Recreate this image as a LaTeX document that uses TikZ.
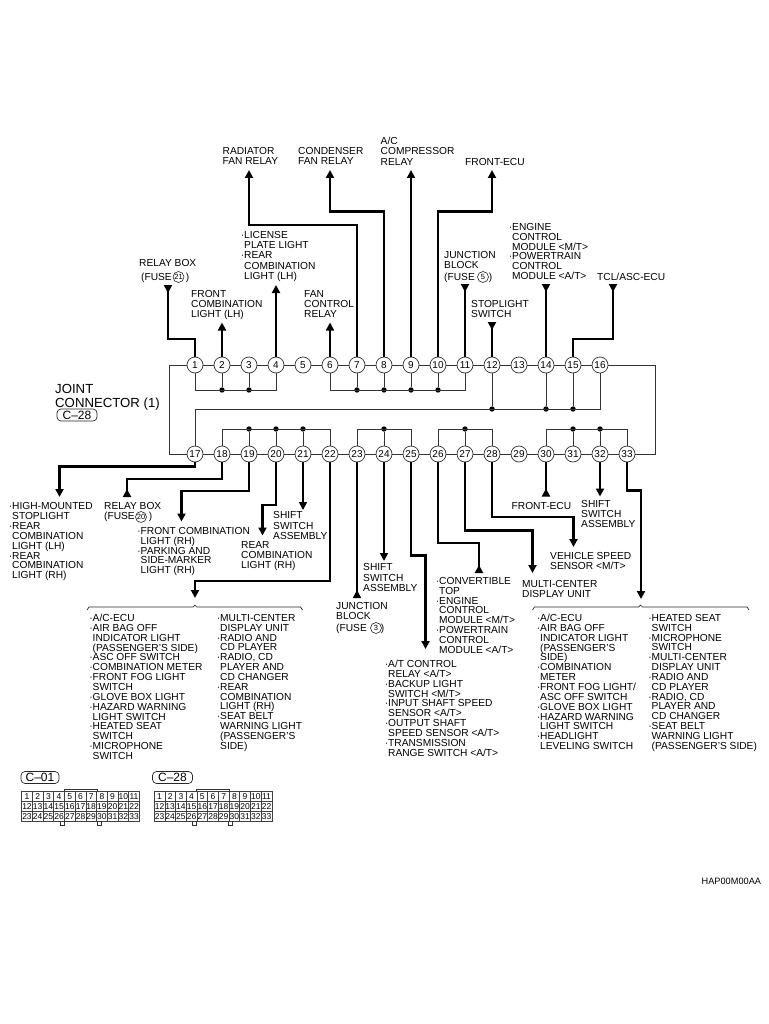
\documentclass[tikz,border=0pt]{standalone}
\usepackage{fontspec}
\setmainfont{Liberation Sans}
\usetikzlibrary{arrows.meta}
\def\itm{\llap{·}}
\def\cavitygrid(#1,#2)#3{\foreach \n in {1,...,33}{\pgfmathtruncatemacro\col{mod(\n-1,11)}\pgfmathtruncatemacro\row{(\n-1)/11}\node[cavity] (#3cell\n) at ({#1+\col*10.7},{#2+\row*9.9}) {\n};}}
\tikzset{
	pin/.style={circle, draw=black!80, line width=0.7pt, fill=white, minimum size=16pt, inner sep=0pt, font=\fontsize{10}{10}\selectfont},
	jdot/.style={circle, fill=black, minimum size=5.4pt, inner sep=0pt},
	thinwire/.style={line width=0.8pt, color=black!80},
	midwire/.style={line width=1.6pt, color=black},
	heavywire/.style={line width=2.6pt, color=black},
	outtip/.style={-{Triangle[length=8pt,width=8pt]}},
	intip/.style={-{Triangle[length=8pt,width=8pt,reversed]}},
	lbl/.style={anchor=north west, yshift=8pt, inner sep=0pt, align=left, text=black, font=\fontsize{10.2}{9.85}\selectfont, execute at begin node={\rule{0pt}{8pt}}},
	loose/.style={font=\fontsize{10.2}{10.25}\selectfont},
	fusecirc/.style={circle, draw=black!85, line width=0.6pt, minimum size=11pt, inner sep=0pt, font=\fontsize{7.5}{7.5}\selectfont},
	tagbox/.style={draw=black!85, line width=0.7pt, rounded corners=4pt, inner sep=0pt, minimum height=12pt, font=\fontsize{12}{12}\selectfont},
	cavity/.style={draw=black!75, line width=0.7pt, inner sep=0pt, minimum width=10.7pt, minimum height=9.9pt, font=\fontsize{8.5}{8.5}\selectfont},
	brace/.style={line width=0.7pt, color=black!85},
}
\begin{document}
\begin{tikzpicture}[x=1pt, y=-1pt]
		%%%%% START %%%%%
		\useasboundingbox (0, 0) rectangle (768, 1024);
		
		\coordinate (lefttop) at (169, 365);
		\coordinate (leftbot) at (169, 454);
		\coordinate (righttop) at (655, 365);
		\coordinate (rightbot) at (655, 454);
		
		\node[pin] (p1) at (195, 365) {1};
		\node[pin] (p2) at (222, 365) {2};
		\node[pin] (p3) at (249, 365) {3};
		\node[pin] (p4) at (276, 365) {4};
		\node[pin] (p5) at (303, 365) {5};
		\node[pin] (p6) at (330, 365) {6};
		\node[pin] (p7) at (357, 365) {7};
		\node[pin] (p8) at (384, 365) {8};
		\node[pin] (p9) at (411, 365) {9};
		\node[pin] (p10) at (438, 365) {10};
		\node[pin] (p11) at (465, 365) {11};
		\node[pin] (p12) at (492, 365) {12};
		\node[pin] (p13) at (519, 365) {13};
		\node[pin] (p14) at (546, 365) {14};
		\node[pin] (p15) at (573, 365) {15};
		\node[pin] (p16) at (600, 365) {16};
		
		\node[pin] (p17) at (195, 454) {17};
		\node[pin] (p18) at (222, 454) {18};
		\node[pin] (p19) at (249, 454) {19};
		\node[pin] (p20) at (276, 454) {20};
		\node[pin] (p21) at (303, 454) {21};
		\node[pin] (p22) at (330, 454) {22};
		\node[pin] (p23) at (357, 454) {23};
		\node[pin] (p24) at (384, 454) {24};
		\node[pin] (p25) at (411, 454) {25};
		\node[pin] (p26) at (438, 454) {26};
		\node[pin] (p27) at (465, 454) {27};
		\node[pin] (p28) at (492, 454) {28};
		\node[pin] (p29) at (519, 454) {29};
		\node[pin] (p30) at (546, 454) {30};
		\node[pin] (p31) at (573, 454) {31};
		\node[pin] (p32) at (600, 454) {32};
		\node[pin] (p33) at (627, 454) {33};
		
		\draw[thinwire] (p1) -- (p2) -- (p3) -- (p4) -- (p5) -- (p6) -- (p7) -- (p8) -- (p9) -- (p10) -- (p11) -- (p12) -- (p13) -- (p14) -- (p15) -- (p16);
		\draw[thinwire] (p17) -- (p18) -- (p19) -- (p20) -- (p21) -- (p22) -- (p23) -- (p24) -- (p25) -- (p26) -- (p27) -- (p28) -- (p29) -- (p30) -- (p31) -- (p32) -- (p33);
		\draw[thinwire] (p1) -- (lefttop) -- (leftbot) -- (p17);
		\draw[thinwire] (p16) -- (righttop) -- (rightbot) -- (p33);
		
		% upper bus bars
		\node[jdot] (d2) at (222, 390) {};
		\node[jdot] (d3) at (249, 390) {};
		\node[jdot] (d7) at (357, 390) {};
		\node[jdot] (d8) at (384, 390) {};
		\node[jdot] (d9) at (411, 390) {};
		\node[jdot] (d10) at (438, 390) {};
		\draw[thinwire] (p1) -- ++(0, 25) -| (p4);
		\draw[thinwire] (p6) -- ++(0, 25) -| (p11);
		\draw[thinwire] (p2) -- (d2);
		\draw[thinwire] (p3) -- (d3);
		\draw[thinwire] (p7) -- (d7);
		\draw[thinwire] (p8) -- (d8);
		\draw[thinwire] (p9) -- (d9);
		\draw[thinwire] (p10) -- (d10);
		
		% long bar
		\node[jdot] (d12) at (492, 409) {};
		\node[jdot] (d14) at (546, 409) {};
		\node[jdot] (d15) at (573, 409) {};
		\draw[thinwire] (p17) -- ++(0, -45) -| (p16);
		\draw[thinwire] (p12) -- (d12);
		\draw[thinwire] (p14) -- (d14);
		\draw[thinwire] (p15) -- (d15);
		
		% lower bus bars
		\node[jdot] (d19) at (249, 429) {};
		\node[jdot] (d20) at (276, 429) {};
		\node[jdot] (d21) at (303, 429) {};
		\node[jdot] (d24) at (384, 429) {};
		\node[jdot] (d27) at (465, 429) {};
		\node[jdot] (d31) at (573, 429) {};
		\node[jdot] (d32) at (600, 429) {};
		\draw[thinwire] (p18) -- ++(0, -25) -| (p22);
		\draw[thinwire] (p23) -- ++(0, -25) -| (p25);
		\draw[thinwire] (p26) -- ++(0, -25) -| (p28);
		\draw[thinwire] (p30) -- ++(0, -25) -| (p33);
		\draw[thinwire] (p19) -- (d19);
		\draw[thinwire] (p20) -- (d20);
		\draw[thinwire] (p21) -- (d21);
		\draw[thinwire] (p24) -- (d24);
		\draw[thinwire] (p27) -- (d27);
		\draw[thinwire] (p31) -- (d31);
		\draw[thinwire] (p32) -- (d32);
		
		% free ends of the wires
		\coordinate (t1) at (168, 285);
		\coordinate (t2) at (222, 322.5);
		\coordinate (t4) at (276, 285);
		\coordinate (t6) at (330, 322.5);
		\coordinate (t7) at (249, 170);
		\coordinate (t8) at (330, 170);
		\coordinate (t9) at (411, 170);
		\coordinate (t10) at (492, 170);
		\coordinate (t11) at (465, 284);
		\coordinate (t12) at (492, 322);
		\coordinate (t14) at (546, 284);
		\coordinate (t15) at (613, 284);
		\coordinate (t17) at (59.5, 497);
		\coordinate (t18) at (127, 497);
		\coordinate (t19) at (181.5, 521.5);
		\coordinate (t20) at (262.5, 535.5);
		\coordinate (t21) at (303, 510);
		\coordinate (t22) at (195, 598);
		\coordinate (t23) at (357, 598);
		\coordinate (t24) at (384, 561);
		\coordinate (t25) at (425.5, 649);
		\coordinate (t26) at (479, 573);
		\coordinate (t27) at (532.5, 573);
		\coordinate (t28) at (573.5, 547);
		\coordinate (t30) at (546, 496.5);
		\coordinate (t32) at (600, 496.5);
		\coordinate (t33) at (641, 599);
		
		\draw[heavywire, intip] (p1) -- ++(0, -26) -| (t1);
		\draw[heavywire, outtip] (p2) -- (t2);
		\draw[heavywire, outtip] (p4) -- (t4);
		\draw[midwire, outtip] (p6) -- (t6);
		\draw[heavywire, outtip] (p7) -- ++(0, -140) -| (t7);
		\draw[heavywire, outtip] (p8) -- ++(0, -153.5) -| (t8);
		\draw[midwire, outtip] (p9) -- (t9);
		\draw[heavywire, outtip] (p10) -- ++(0, -153.5) -| (t10);
		\draw[heavywire, intip] (p11) -- (t11);
		\draw[heavywire, intip] (p12) -- (t12);
		\draw[heavywire, intip] (p14) -- (t14);
		\draw[heavywire, intip] (p15) -- ++(0, -26) -| (t15);
		
		\draw[heavywire, outtip] (p17) -- ++(0, 12.5) -| (t17);
		\draw[heavywire, intip] (p18) -- ++(0, 25) -| (t18);
		\draw[heavywire, outtip] (p19) -- ++(0, 37) -| (t19);
		\draw[heavywire, outtip] (p20) -- ++(0, 51) -| (t20);
		\draw[midwire, outtip] (p21) -- (t21);
		\draw[heavywire, outtip] (p22) -- ++(0, 127) -| (t22);
		\draw[midwire, intip] (p23) -- (t23);
		\draw[midwire, outtip] (p24) -- (t24);
		\draw[heavywire, outtip] (p25) -- ++(0, 101.5) -| (t25);
		\draw[heavywire, intip] (p26) -- ++(0, 89) -| (t26);
		\draw[heavywire, outtip] (p27) -- ++(0, 76.5) -| (t27);
		\draw[heavywire, outtip] (p28) -- ++(0, 63) -| (t28);
		\draw[heavywire, intip] (p30) -- (t30);
		\draw[heavywire, outtip] (p32) -- (t32);
		\draw[heavywire, outtip] (p33) -- ++(0, 36.5) -| (t33);
		
		% upper labels
		\node[lbl, loose] (radiator) at (222.5, 155) {RADIATOR\\FAN RELAY};
		\node[lbl, loose] (condenser) at (298, 155) {CONDENSER\\FAN RELAY};
		\node[lbl, loose] (compressor) at (380.5, 145) {A/C\\COMPRESSOR\\RELAY};
		\node[lbl] (frontecu) at (465, 165) {FRONT-ECU};
		\node[lbl, loose] (licence) at (244, 239) {\itm LICENSE\\PLATE LIGHT\\\itm REAR\\COMBINATION\\LIGHT (LH)};
		\node[lbl] (relaybox) at (139, 266.5) {RELAY BOX};
		\node[lbl] (fuseb) at (141, 280) {(FUSE\hspace{14pt})};
		\node[fusecirc] (f21) at (178.5, 277) {21};
		\node[lbl, loose] (frontlh) at (191, 298) {FRONT\\COMBINATION\\LIGHT (LH)};
		\node[lbl, loose] (fanctl) at (304, 298) {FAN\\CONTROL\\RELAY};
		\node[lbl, loose] (junction) at (444, 259) {JUNCTION\\BLOCK};
		\node[lbl] (fusej) at (444, 280) {(FUSE\hspace{14pt})};
		\node[fusecirc] (f5) at (483, 277) {5};
		\node[lbl, loose] (stoplight) at (471, 308) {STOPLIGHT\\SWITCH};
		\node[lbl] (engine) at (512, 231) {\itm ENGINE\\CONTROL\\MODULE <M/T>\\\itm POWERTRAIN\\CONTROL\\MODULE <A/T>};
		\node[lbl] (tclasc) at (597, 280) {TCL/ASC-ECU};
		
		\node[lbl, font=\fontsize{13.2}{13.2}\selectfont] (joint) at (55, 392.5) {JOINT\\CONNECTOR (1)};
		\node[tagbox, minimum width=40pt] (tagjoint) at (77, 415) {C--28};
		
		% lower labels
		\node[lbl] (highstop) at (12, 510.5) {\itm HIGH-MOUNTED\\STOPLIGHT\\\itm REAR\\COMBINATION\\LIGHT (LH)\\\itm REAR\\COMBINATION\\LIGHT (RH)};
		\node[lbl] (relayboxb) at (104, 510) {RELAY BOX\\(FUSE\hspace{14pt})};
		\node[fusecirc] (f20) at (141, 517) {20};
		\node[lbl] (frontrh) at (140.5, 535) {\itm FRONT COMBINATION\\LIGHT (RH)\\\itm PARKING AND\\SIDE-MARKER\\LIGHT (RH)};
		\node[lbl, loose] (rearrh) at (241, 549) {REAR\\COMBINATION\\LIGHT (RH)};
		\node[lbl, loose] (shifta) at (273, 519.5) {SHIFT\\SWITCH\\ASSEMBLY};
		\node[lbl, loose] (shiftb) at (363, 571.5) {SHIFT\\SWITCH\\ASSEMBLY};
		\node[lbl] (junctionb) at (336, 610.5) {JUNCTION\\BLOCK};
		\node[lbl] (fusek) at (336, 631) {(FUSE\hspace{14pt})};
		\node[fusecirc] (f3) at (376, 628) {3};
		\node[lbl] (convertible) at (439, 585) {\itm CONVERTIBLE\\TOP\\\itm ENGINE\\CONTROL\\MODULE <M/T>\\\itm POWERTRAIN\\CONTROL\\MODULE <A/T>};
		\node[lbl] (multicenter) at (522, 588) {MULTI-CENTER\\DISPLAY UNIT};
		\node[lbl] (speed) at (550, 560.5) {VEHICLE SPEED\\SENSOR <M/T>};
		\node[lbl] (frontecub) at (511.5, 509) {FRONT-ECU};
		\node[lbl, loose] (shiftc) at (581, 508) {SHIFT\\SWITCH\\ASSEMBLY};
		\node[lbl] (atctl) at (388, 668) {\itm A/T CONTROL\\RELAY <A/T>\\\itm BACKUP LIGHT\\SWITCH <M/T>\\\itm INPUT SHAFT SPEED\\SENSOR <A/T>\\\itm OUTPUT SHAFT\\SPEED SENSOR <A/T>\\\itm TRANSMISSION\\RANGE SWITCH <A/T>};
		
		% braced lists
		\draw[brace] (87, 610) -- (89, 607) -- (193, 607) -- (195, 605) -- (197, 607) -- (300.5, 607) -- (302.5, 610);
		\node[lbl] (lista) at (92.5, 622) {\itm A/C-ECU\\\itm AIR BAG OFF\\INDICATOR LIGHT\\(PASSENGER'S SIDE)\\\itm ASC OFF SWITCH\\\itm COMBINATION METER\\\itm FRONT FOG LIGHT\\SWITCH\\\itm GLOVE BOX LIGHT\\\itm HAZARD WARNING\\LIGHT SWITCH\\\itm HEATED SEAT\\SWITCH\\\itm MICROPHONE\\SWITCH};
		\node[lbl] (listb) at (220, 622) {\itm MULTI-CENTER\\DISPLAY UNIT\\\itm RADIO AND\\CD PLAYER\\\itm RADIO, CD\\PLAYER AND\\CD CHANGER\\\itm REAR\\COMBINATION\\LIGHT (RH)\\\itm SEAT BELT\\WARNING LIGHT\\(PASSENGER'S\\SIDE)};
		
		\draw[brace] (532.5, 610) -- (534.5, 607) -- (638.5, 607) -- (640.5, 605) -- (642.5, 607) -- (747, 607) -- (749, 610);
		\node[lbl] (listc) at (540, 622) {\itm A/C-ECU\\\itm AIR BAG OFF\\INDICATOR LIGHT\\(PASSENGER'S\\SIDE)\\\itm COMBINATION\\METER\\\itm FRONT FOG LIGHT/\\ASC OFF SWITCH\\\itm GLOVE BOX LIGHT\\\itm HAZARD WARNING\\LIGHT SWITCH\\\itm HEADLIGHT\\LEVELING SWITCH};
		\node[lbl] (listd) at (651.5, 622) {\itm HEATED SEAT\\SWITCH\\\itm MICROPHONE\\SWITCH\\\itm MULTI-CENTER\\DISPLAY UNIT\\\itm RADIO AND\\CD PLAYER\\\itm RADIO, CD\\PLAYER AND\\CD CHANGER\\\itm SEAT BELT\\WARNING LIGHT\\(PASSENGER'S SIDE)};
		
		% connector faces
		\node[tagbox, minimum width=38pt] (tagcone) at (40, 777.5) {C--01};
		\draw[thinwire] (64.5, 791.7) -- (64.5, 789) -- (97.5, 789) -- (97.5, 791.7);
		\cavitygrid(27, 796.7){cone}
		\draw[thinwire] (60, 821) -- (60, 825.5) -- (64.5, 825.5) -- (64.5, 821);
		\draw[thinwire] (97, 821) -- (97, 825.5) -- (101, 825.5) -- (101, 821);
		
		\node[tagbox, minimum width=40pt] (tagctwo) at (172.5, 777.5) {C--28};
		\draw[thinwire] (196.5, 791.7) -- (196.5, 789) -- (229.5, 789) -- (229.5, 791.7);
		\cavitygrid(159.5, 796.7){ctwo}
		\draw[thinwire] (192, 821) -- (192, 825.5) -- (196.5, 825.5) -- (196.5, 821);
		\draw[thinwire] (228, 821) -- (228, 825.5) -- (232.5, 825.5) -- (232.5, 821);
		
		\node[lbl, font=\fontsize{9.2}{9.2}\selectfont] (figcode) at (701.5, 884.5) {HAP00M00AA};
		
		%%%%% END %%%%%
	\end{tikzpicture}
\end{document}
